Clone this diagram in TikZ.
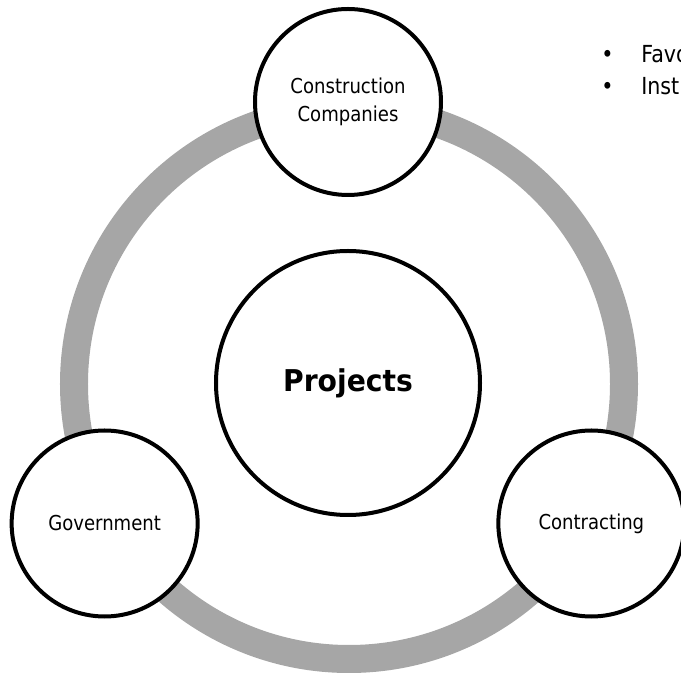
\documentclass[tikz,border=0pt]{standalone}
\usepackage{fontspec}
\setmainfont{DejaVu Sans}[FakeStretch=0.88, BoldFeatures={FakeStretch=0.94}]
\definecolor{ringgray}{RGB}{166,166,166}
\tikzset{
  party/.style={circle, draw, line width=3pt, fill=white, minimum size=139.5pt,
    inner sep=0pt, align=center, font=\fontsize{15.4}{21}\selectfont},
  hub/.style={party, minimum size=198pt, font=\bfseries\fontsize{22.5}{27}\selectfont},
  listitem/.style={anchor=base west, inner sep=0pt, font=\fontsize{17.6}{24}\selectfont}
}
\begin{document}
\begin{tikzpicture}[x=0.75pt,y=0.75pt]
  \useasboundingbox (-348,-290) rectangle (333,383);
  \draw[ringgray, line width=21pt] (1,-1) circle[radius=275];
  \draw
    (0,0) node[hub] (projects) {Projects}
    (90:281) node[party] (construction) {Construction\\Companies}
    (210:281) node[party] (government) {Government}
    (330:281) node[party] (contracting) {Contracting};
  \path
    (293,320) node[listitem] (favo) {\llap{•\kern20.8pt}Favo}
    (293,288) node[listitem] (inst) {\llap{•\kern20.8pt}Inst};
\end{tikzpicture}
\end{document}
